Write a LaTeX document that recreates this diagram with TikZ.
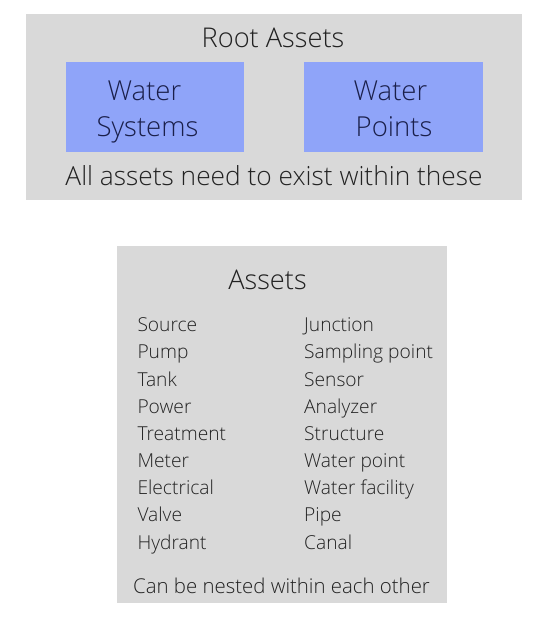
\documentclass[tikz,border=0pt]{standalone}
\usepackage{fontspec}
\setmainfont{Open Sans}[UprightFont=* Light]
\usepackage{tikz}
\usepackage{color}
\usetikzlibrary{positioning,fit,shapes}
\definecolor{panelGray}{HTML}{D9D9D9}
\definecolor{groupBlue}{HTML}{8FA4F9}
\definecolor{groupText}{HTML}{1A1F4A}
\definecolor{listText}{HTML}{222222}
\tikzset{panel/.style={rectangle,fill=panelGray,inner sep=0pt},
		group/.style={rectangle,fill=groupBlue,inner sep=0pt,minimum width=178pt,minimum height=90pt},
		title/.style={anchor=base,inner sep=0pt,text=listText,font=\fontsize{27.2}{30}\selectfont},
		groupLabel/.style={anchor=base,inner sep=0pt,text=groupText,font=\fontsize{27.5}{32}\selectfont},
		note/.style={anchor=base,inner sep=0pt,text=listText,font=\fontsize{26.3}{30}\selectfont},
		item/.style={anchor=base west,inner sep=0pt,text=listText,font=\fontsize{19.2}{24}\selectfont},
		every node/.style={align=center}}
\begin{document}
\begin{tikzpicture}[x=1pt,y=-1pt]
		\useasboundingbox (0,0) rectangle (546,640);
		%root assets panel
		\node at (274,107) [panel,minimum width=496pt,minimum height=186pt] (root){};
		\node at (155,106.7) [group] (systems){};
		\node at (393.5,106.7) [group,minimum width=179pt] (points){};
		\node at (273,47.2) [title] (rootTitle){Root Assets};
		\node at (144.5,100) [groupLabel] (sysA){Water};
		\node at (147.5,136.7) [groupLabel] (sysB){Systems};
		\node at (390.5,100) [groupLabel] (ptsA){Water};
		\node at (394,136.7) [groupLabel] (ptsB){Points};
		\node at (274,185) [note] (rootNote){All assets need to exist within these};
		%assets panel
		\node at (282,424.5) [panel,minimum width=330pt,minimum height=357pt] (assets){};
		\node at (267.5,289) [title] (assetsTitle){Assets};
		\node at (137.3,331.7) [item] (l1){Source};
		\node at (137.3,358.9) [item] (l2){Pump};
		\node at (137.3,386.0) [item] (l3){Tank};
		\node at (137.3,413.2) [item] (l4){Power};
		\node at (137.3,440.3) [item] (l5){Treatment};
		\node at (137.3,467.5) [item] (l6){Meter};
		\node at (137.3,494.7) [item] (l7){Electrical};
		\node at (137.3,521.8) [item] (l8){Valve};
		\node at (137.3,549.0) [item] (l9){Hydrant};
		\node at (304,331.7) [item] (r1){Junction};
		\node at (304,358.9) [item] (r2){Sampling point};
		\node at (304,386.0) [item] (r3){Sensor};
		\node at (304,413.2) [item] (r4){Analyzer};
		\node at (304,440.3) [item] (r5){Structure};
		\node at (304,467.5) [item] (r6){Water point};
		\node at (304,494.7) [item] (r7){Water facility};
		\node at (304,521.8) [item] (r8){Pipe};
		\node at (304,549.0) [item] (r9){Canal};
		\node at (281.5,593.3) [note,font=\fontsize{20.4}{24}\selectfont] (assetsNote){Can be nested within each other};
\end{tikzpicture}
\end{document}
